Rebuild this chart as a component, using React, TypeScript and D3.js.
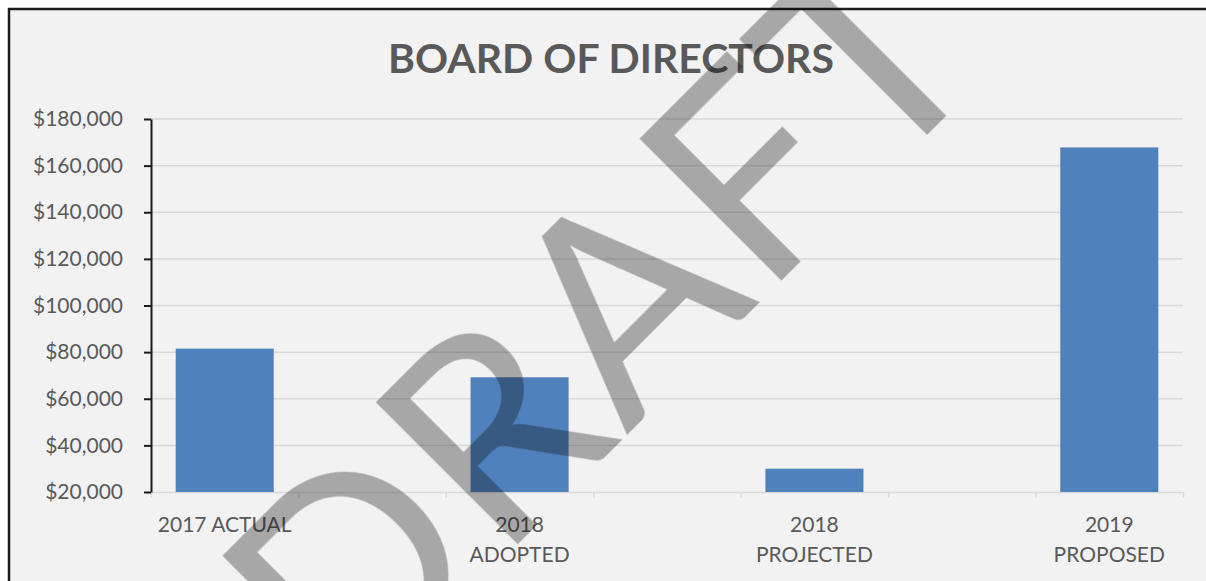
import React, { useEffect, useRef } from 'react';
import * as d3 from 'd3';

// chart data
const categories = ['2017 ACTUAL', '', '2018\nADOPTED', '', '2018\nPROJECTED', '', '2019\nPROPOSED'];
const values = [81500, null, 69200, null, 30000, null, 167800];
const yTicks = [20000, 40000, 60000, 80000, 100000, 120000, 140000, 160000, 180000];
const title = 'BOARD OF DIRECTORS';
const watermark = 'DRAFT';

const W = 1206;
const H = 581;
const font = 'Lato, "Open Sans", sans-serif';

export default function App() {
	const ref = useRef<SVGSVGElement>(null);

	useEffect(() => {
		const svg = d3.select(ref.current);
		svg.selectAll('*').remove();

		const left = 151;
		const right = 1183;
		const top = 119;
		const bottom = 492;

		// frame
		svg
			.append('rect')
			.attr('x', 9)
			.attr('y', 9)
			.attr('width', W + 20)
			.attr('height', H + 20)
			.attr('fill', '#f2f2f2')
			.attr('stroke', '#1c1c1c')
			.attr('stroke-width', 2.5);

		// Scales:
		const y = d3.scaleLinear().domain([yTicks[0], yTicks[yTicks.length - 1]]).range([bottom, top]);
		const x = d3
			.scaleBand<number>()
			.domain(d3.range(categories.length))
			.range([left, right]);
		const xEdges = d3.scaleLinear().domain([0, categories.length]).range([left, right]);
		const barW = x.bandwidth() * 0.665;

		// gridlines
		svg
			.append('g')
			.selectAll('line')
			.data(yTicks.slice(1))
			.join('line')
			.attr('x1', left)
			.attr('x2', right)
			.attr('y1', d => y(d))
			.attr('y2', d => y(d))
			.attr('stroke', '#d9d9d9')
			.attr('stroke-width', 1.5);

		// x axis (category boundaries)
		const xAxis = svg
			.append('g')
			.attr('transform', `translate(0,${bottom})`)
			.call(
				d3
					.axisBottom(xEdges)
					.tickValues(d3.range(categories.length + 1))
					.tickFormat(() => '')
					.tickSize(6)
					.tickSizeOuter(0)
			);
		xAxis.select('.domain').attr('stroke', '#d9d9d9').attr('stroke-width', 1.5);
		xAxis.selectAll('.tick line').attr('stroke', '#d9d9d9').attr('stroke-width', 1.5);

		// bars
		svg
			.append('g')
			.selectAll('rect')
			.data(values.map((v, i) => ({ v, i })).filter(d => d.v !== null))
			.join('rect')
			.attr('x', d => (x(d.i) as number) + (x.bandwidth() - barW) / 2)
			.attr('y', d => y(d.v as number))
			.attr('width', barW)
			.attr('height', d => bottom - y(d.v as number))
			.attr('fill', '#4f81bd');

		// y axis
		const yAxis = svg
			.append('g')
			.attr('transform', `translate(${left},0)`)
			.call(
				d3
					.axisLeft(y)
					.tickValues(yTicks)
					.tickFormat(d => '$' + d3.format(',')(d as number))
					.tickSize(7)
					.tickSizeOuter(0)
					.tickPadding(21)
			);
		yAxis.select('.domain').attr('stroke', '#1a1a1a').attr('stroke-width', 2);
		yAxis.selectAll('.tick line').attr('stroke', '#1a1a1a').attr('stroke-width', 2);
		yAxis
			.selectAll('.tick text')
			.attr('fill', '#595959')
			.style('font-family', font)
			.style('font-size', '21px');

		// category labels
		const labels = svg
			.append('g')
			.selectAll('text')
			.data(categories.map((c, i) => ({ c, i })).filter(d => d.c !== ''))
			.join('text')
			.attr('x', d => (x(d.i) as number) + x.bandwidth() / 2)
			.attr('y', 532)
			.attr('text-anchor', 'middle')
			.attr('fill', '#595959')
			.style('font-family', font)
			.style('font-size', '21px');
		labels
			.selectAll('tspan')
			.data(d => d.c.split('\n').map(s => ({ s, x: (x(d.i) as number) + x.bandwidth() / 2 })))
			.join('tspan')
			.attr('x', d => d.x)
			.attr('dy', (d, i) => (i === 0 ? 0 : 30))
			.text(d => d.s);

		// title
		svg
			.append('text')
			.attr('x', 611)
			.attr('y', 73)
			.attr('text-anchor', 'middle')
			.attr('fill', '#595959')
			.style('font-family', font)
			.style('font-weight', 'bold')
			.style('font-size', '41px')
			.text(title);

		// watermark
		svg
			.append('text')
			.attr('transform', 'translate(672,390) rotate(-45)')
			.attr('text-anchor', 'middle')
			.attr('fill', '#000')
			.attr('fill-opacity', 0.31)
			.style('font-family', font)
			.style('font-size', '280px')
			.style('letter-spacing', '4px')
			.text(watermark);
	}, []);

	return (
		<svg
			ref={ref}
			width={W}
			height={H}
			style={{ position: 'fixed', left: 0, top: 0, display: 'block' }}
		/>
	);
}
